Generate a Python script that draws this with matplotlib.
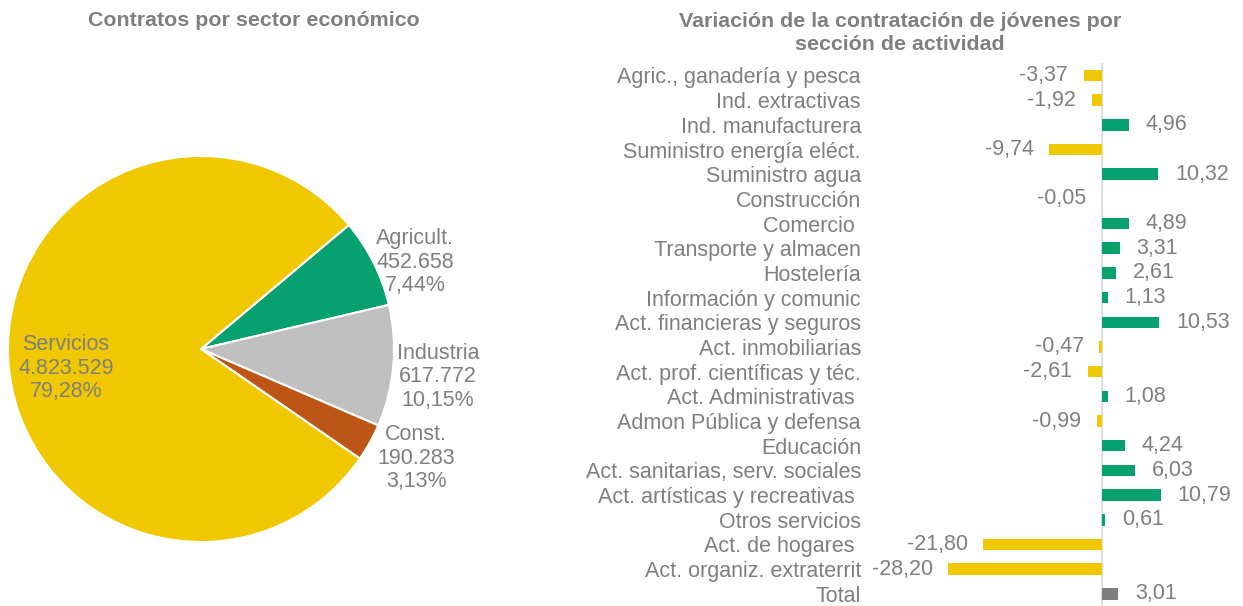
import matplotlib
matplotlib.use('Agg')
import matplotlib.pyplot as plt

plt.rcParams['font.family'] = ['Liberation Sans', 'DejaVu Sans']

# pie data
sectores = ['Agricult.', 'Industria', 'Const.', 'Servicios']
contratos = [452658, 617772, 190283, 4823529]
porcentajes = ['7,44%', '10,15%', '3,13%', '79,28%']
colores_pie = ['#07A06F', '#BFBFBF', '#BD5516', '#F0C800']

# bar data
secciones = ['Agric., ganadería y pesca', 'Ind. extractivas', 'Ind. manufacturera',
             'Suministro energía eléct.', 'Suministro agua', 'Construcción',
             'Comercio ', 'Transporte y almacen', 'Hostelería', 'Información y comunic',
             'Act. financieras y seguros', 'Act. inmobiliarias',
             'Act. prof. científicas y téc.', 'Act. Administrativas ',
             'Admon Pública y defensa', 'Educación', 'Act. sanitarias, serv. sociales',
             'Act. artísticas y recreativas ', 'Otros servicios', 'Act. de hogares ',
             'Act. organiz. extraterrit', 'Total']
variacion = [-3.37, -1.92, 4.96, -9.74, 10.32, -0.05, 4.89, 3.31, 2.61, 1.13, 10.53,
             -0.47, -2.61, 1.08, -0.99, 4.24, 6.03, 10.79, 0.61, -21.80, -28.20, 3.01]

gris = '#7F7F7F'
fs = 15.5
W, H = 1243, 606
fig = plt.figure(figsize=(W / 100, H / 100), dpi=100)

# ---- pie ----
cx, cy, r = 201, 349, 193
ax1 = fig.add_axes([(cx - r) / W, (H - cy - r) / H, 2 * r / W, 2 * r / H])
ax1.pie(contratos, colors=colores_pie, startangle=40, counterclock=False,
        wedgeprops=dict(edgecolor='white', linewidth=1.5))
ax1.set_xlim(-1, 1)
ax1.set_ylim(-1, 1)
ax1.set_aspect('auto')
label_pos = [(1.11, 0.45), (1.228, -0.145), (1.114, -0.565), (-0.70, -0.10)]
for nombre, valor, pct, (lx, ly) in zip(sectores, contratos, porcentajes, label_pos):
    txt = nombre + '\n' + f'{valor:,}'.replace(',', '.') + '\n' + pct
    ax1.text(lx, ly, txt, ha='center', va='center', multialignment='center',
             fontsize=fs, color=gris, linespacing=1.15, clip_on=False)
fig.text(254 / W, 1 - 20 / H, 'Contratos por sector económico', ha='center', va='center',
         fontsize=15.4, fontweight='bold', color=gris)

# ---- bars ----
zero_px, px_per_unit = 1102, 5.45
left_px, right_px = 870, 1243
top_px, row_px = 75.5, 24.68
n = len(secciones)
ax2 = fig.add_axes([left_px / W, (H - (top_px + row_px * (n - 0.5))) / H,
                    (right_px - left_px) / W, row_px * n / H])
ax2.set_xlim((left_px - zero_px) / px_per_unit, (right_px - zero_px) / px_per_unit)
ax2.set_ylim(n - 0.5, -0.5)
ypos = list(range(n))
colores_bar = ['#07A06F' if v > 0 else '#F0C800' for v in variacion]
colores_bar[-1] = gris
ax2.barh(ypos, variacion, height=0.47, color=colores_bar)
ax2.axvline(0, color='#D9D9D9', linewidth=1.2, zorder=0)
for y, v in zip(ypos, variacion):
    s = f'{v:.2f}'.replace('.', ',')
    off = 12 if v > 0 else -11
    ax2.annotate(s, (v, y), xytext=(off, 0), textcoords='offset points',
                 ha='left' if v > 0 else 'right', va='center', fontsize=fs, color=gris,
                 annotation_clip=False)
ax2.set_yticks(ypos)
ax2.set_yticklabels(secciones, fontsize=fs, color=gris)
ax2.tick_params(axis='y', length=0, pad=6.5)
ax2.set_xticks([])
for sp in ax2.spines.values():
    sp.set_visible(False)
fig.text(900 / W, 1 - 33 / H, 'Variación de la contratación de jóvenes por\nsección de actividad',
         ha='center', va='center', fontsize=15.4, fontweight='bold', color=gris,
         linespacing=1.25)

fig.savefig('out.png', dpi=100)
